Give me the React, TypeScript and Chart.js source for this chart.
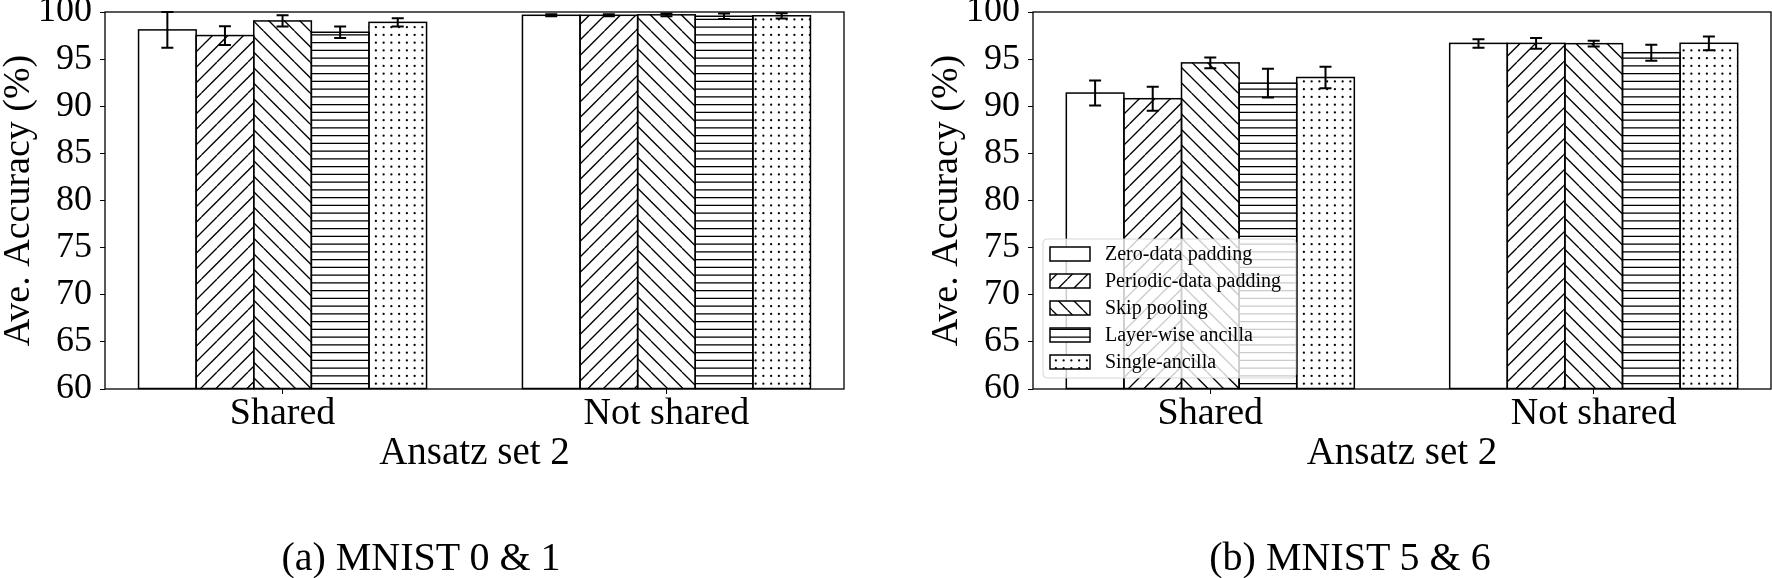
import React, { useEffect, useRef } from 'react';
import { Chart, registerables } from 'chart.js';

Chart.register(...registerables);

// ---------- data ----------
const GROUPS = ['Shared', 'Not shared'];
const GROUP_POS = [0, 1];
const SERIES_LABELS = [
  'Zero-data padding',
  'Periodic-data padding',
  'Skip pooling',
  'Layer-wise ancilla',
  'Single-ancilla',
];
const HATCHES = ['none', '/', '\\', '-', '.'];
const X_TITLE = 'Ansatz set 2';
const Y_TITLE = 'Ave. Accuracy (%)';
const Y_MIN = 60;
const Y_MAX = 100;
const Y_STEP = 5;

// (a) MNIST 0 & 1
const A_ZERO = [98.1, 99.65];
const A_PERIODIC = [97.5, 99.65];
const A_SKIP = [99.05, 99.7];
const A_LAYER = [97.85, 99.55];
const A_SINGLE = [98.9, 99.6];
const A_ZERO_ERR = [1.9, 0.1];
const A_PERIODIC_ERR = [1.0, 0.1];
const A_SKIP_ERR = [0.6, 0.14];
const A_LAYER_ERR = [0.6, 0.3];
const A_SINGLE_ERR = [0.45, 0.28];

// (b) MNIST 5 & 6
const B_ZERO = [91.4, 96.67];
const B_PERIODIC = [90.8, 96.67];
const B_SKIP = [94.6, 96.64];
const B_LAYER = [92.45, 95.68];
const B_SINGLE = [93.05, 96.68];
const B_ZERO_ERR = [1.33, 0.45];
const B_PERIODIC_ERR = [1.27, 0.58];
const B_SKIP_ERR = [0.56, 0.3];
const B_LAYER_ERR = [1.52, 0.84];
const B_SINGLE_ERR = [1.13, 0.73];

const CAPTION_A = '(a) MNIST 0 & 1';
const CAPTION_B = '(b) MNIST 5 & 6';

const A_VALUES = [A_ZERO, A_PERIODIC, A_SKIP, A_LAYER, A_SINGLE];
const A_ERRORS = [A_ZERO_ERR, A_PERIODIC_ERR, A_SKIP_ERR, A_LAYER_ERR, A_SINGLE_ERR];
const B_VALUES = [B_ZERO, B_PERIODIC, B_SKIP, B_LAYER, B_SINGLE];
const B_ERRORS = [B_ZERO_ERR, B_PERIODIC_ERR, B_SKIP_ERR, B_LAYER_ERR, B_SINGLE_ERR];

// ---------- styling ----------
const FAMILY = "'Liberation Serif', 'Times New Roman', Times, serif";
const BAR_PX = 57.6;

function makePattern(kind: string): any {
  if (kind === 'none') return '#ffffff';
  const T = 31;
  const c = document.createElement('canvas');
  c.width = T;
  c.height = T;
  const g = c.getContext('2d')!;
  g.fillStyle = '#ffffff';
  g.fillRect(0, 0, T, T);
  g.strokeStyle = '#000000';
  g.fillStyle = '#000000';
  g.lineWidth = 1.3;
  if (kind === '/') {
    const s = T / 2;
    for (let k = -1; k <= 5; k++) {
      const cc = k * s;
      g.beginPath();
      g.moveTo(cc, 0);
      g.lineTo(cc - T, T);
      g.stroke();
    }
  } else if (kind === '\\') {
    const s = T / 2;
    for (let k = -3; k <= 3; k++) {
      const cc = k * s;
      g.beginPath();
      g.moveTo(cc, 0);
      g.lineTo(cc + T, T);
      g.stroke();
    }
  } else if (kind === '-') {
    const s = T / 4;
    for (let k = 0; k < 4; k++) {
      const y = s / 2 + k * s;
      g.beginPath();
      g.moveTo(0, y);
      g.lineTo(T, y);
      g.stroke();
    }
  } else if (kind === '.') {
    const s = T / 4;
    for (let i = 0; i < 4; i++) {
      for (let j = 0; j < 4; j++) {
        g.beginPath();
        g.arc(s / 2 + i * s, s / 2 + j * s, 1.15, 0, Math.PI * 2);
        g.fill();
      }
    }
  }
  return g.createPattern(c, 'repeat');
}

// outlines, error bars and the frame, drawn over the bars
const overlayPlugin = {
  id: 'overlay',
  afterDatasetsDraw(chart: any) {
    const { ctx, chartArea, scales } = chart;
    const y = scales.y;
    ctx.save();
    chart.data.datasets.forEach((ds: any, i: number) => {
      const meta = chart.getDatasetMeta(i);
      meta.data.forEach((bar: any) => {
        const p = bar.getProps(['x', 'y', 'base', 'width'], true);
        ctx.strokeStyle = '#000';
        ctx.lineWidth = 1.5;
        ctx.strokeRect(p.x - p.width / 2, p.y, p.width, p.base - p.y);
      });
    });
    chart.data.datasets.forEach((ds: any, i: number) => {
      const meta = chart.getDatasetMeta(i);
      meta.data.forEach((bar: any, j: number) => {
        const v = ds.data[j].y;
        const e = ds.errors[j];
        const x = bar.x;
        const yTop = y.getPixelForValue(v + e);
        const yBot = y.getPixelForValue(v - e);
        ctx.strokeStyle = '#000';
        ctx.lineWidth = 2;
        ctx.beginPath();
        ctx.moveTo(x, yTop);
        ctx.lineTo(x, yBot);
        ctx.moveTo(x - 6, yTop);
        ctx.lineTo(x + 6, yTop);
        ctx.moveTo(x - 6, yBot);
        ctx.lineTo(x + 6, yBot);
        ctx.stroke();
      });
    });
    ctx.strokeStyle = '#000';
    ctx.lineWidth = 1.3;
    ctx.strokeRect(
      chartArea.left,
      chartArea.top,
      chartArea.right - chartArea.left,
      chartArea.bottom - chartArea.top
    );
    ctx.restore();
  },
};

const boxLegendPlugin = {
  id: 'boxLegend',
  afterDraw(chart: any, _args: any, opts: any) {
    if (!opts || !opts.display) return;
    const { ctx, chartArea } = chart;
    const w = 253;
    const h = 139;
    const x0 = chartArea.left + 10;
    const y0 = chartArea.bottom - 11 - h;
    ctx.save();
    ctx.beginPath();
    const r = 4;
    ctx.moveTo(x0 + r, y0);
    ctx.lineTo(x0 + w - r, y0);
    ctx.quadraticCurveTo(x0 + w, y0, x0 + w, y0 + r);
    ctx.lineTo(x0 + w, y0 + h - r);
    ctx.quadraticCurveTo(x0 + w, y0 + h, x0 + w - r, y0 + h);
    ctx.lineTo(x0 + r, y0 + h);
    ctx.quadraticCurveTo(x0, y0 + h, x0, y0 + h - r);
    ctx.lineTo(x0, y0 + r);
    ctx.quadraticCurveTo(x0, y0, x0 + r, y0);
    ctx.closePath();
    ctx.fillStyle = 'rgba(255,255,255,0.8)';
    ctx.fill();
    ctx.strokeStyle = 'rgba(204,204,204,0.8)';
    ctx.lineWidth = 1;
    ctx.stroke();
    chart.data.datasets.forEach((ds: any, i: number) => {
      const cy = y0 + 15 + i * 27;
      const hx = x0 + 7;
      const hy = cy - 7;
      ctx.fillStyle = ds.backgroundColor;
      ctx.fillRect(hx, hy, 40, 14);
      ctx.strokeStyle = '#000';
      ctx.lineWidth = 1.5;
      ctx.strokeRect(hx, hy, 40, 14);
      ctx.fillStyle = '#000';
      ctx.font = `20px ${FAMILY}`;
      ctx.textAlign = 'left';
      ctx.textBaseline = 'middle';
      ctx.fillText(ds.label, x0 + 62, cy + 1);
    });
    ctx.restore();
  },
};

function buildConfig(values: number[][], errors: number[][], showLegend: boolean, padRight: number): any {
  const patterns = HATCHES.map(makePattern);
  return {
    type: 'bar',
    data: {
      datasets: SERIES_LABELS.map((label, i) => ({
        label,
        data: GROUP_POS.map((x, j) => ({ x, y: values[i][j] })),
        errors: errors[i],
        backgroundColor: patterns[i],
        borderWidth: 0,
        barThickness: BAR_PX,
        base: Y_MIN,
      })),
    },
    options: {
      responsive: false,
      animation: false,
      devicePixelRatio: 1,
      events: [],
      layout: { padding: { left: 0, top: 12, right: padRight, bottom: 105 } },
      plugins: {
        legend: { display: false },
        tooltip: { enabled: false },
        boxLegend: { display: showLegend },
      },
      scales: {
        x: {
          type: 'linear',
          min: -0.4625,
          max: 1.4625,
          bounds: 'data',
          offset: false,
          afterBuildTicks: (s: any) => {
            s.ticks = GROUP_POS.map((v) => ({ value: v }));
          },
          afterFit: (s: any) => {
            s.height = 84;
            s.paddingLeft = 0;
            s.paddingRight = 0;
          },
          ticks: {
            callback: (v: number) => {
              const k = GROUP_POS.indexOf(v);
              return k >= 0 ? GROUPS[k] : '';
            },
            font: { family: FAMILY, size: 38, lineHeight: 1 },
            color: '#000',
            padding: 1,
            maxRotation: 0,
            autoSkip: false,
          },
          grid: {
            offset: false,
            drawOnChartArea: false,
            drawTicks: true,
            tickLength: 5,
            color: '#000',
            lineWidth: 1,
          },
          border: { display: false },
          title: {
            display: true,
            text: X_TITLE,
            font: { family: FAMILY, size: 39, lineHeight: 1 },
            color: '#000',
            padding: 0,
          },
        },
        y: {
          min: Y_MIN,
          max: Y_MAX,
          afterFit: (s: any) => {
            s.width = 105;
            s.paddingTop = 0;
            s.paddingBottom = 0;
          },
          ticks: {
            stepSize: Y_STEP,
            font: { family: FAMILY, size: 36, lineHeight: 1 },
            color: '#000',
            padding: 8,
          },
          grid: {
            drawOnChartArea: false,
            drawTicks: true,
            tickLength: 5,
            color: '#000',
            lineWidth: 1,
          },
          border: { display: false },
          title: {
            display: true,
            text: Y_TITLE,
            font: { family: FAMILY, size: 38, lineHeight: 1 },
            color: '#000',
            padding: 0,
          },
        },
      },
    },
    plugins: [overlayPlugin, boxLegendPlugin],
  };
}

const captionStyle = (cx: number): React.CSSProperties => ({
  position: 'absolute',
  left: cx - 250,
  width: 500,
  top: 537,
  textAlign: 'center',
  fontFamily: FAMILY,
  fontSize: 40,
  lineHeight: '40px',
  color: '#000',
  whiteSpace: 'nowrap',
});

export default function App() {
  const ref1 = useRef<HTMLCanvasElement>(null);
  const ref2 = useRef<HTMLCanvasElement>(null);

  useEffect(() => {
    const c1 = new Chart(ref1.current!, buildConfig(A_VALUES, A_ERRORS, false, 84));
    const c2 = new Chart(ref2.current!, buildConfig(B_VALUES, B_ERRORS, true, 1));
    return () => {
      c1.destroy();
      c2.destroy();
    };
  }, []);

  return (
    <div
      style={{
        position: 'absolute',
        left: 0,
        top: 0,
        width: 1772,
        height: 578,
        background: '#ffffff',
        overflow: 'hidden',
      }}
    >
      <canvas
        ref={ref1}
        width={928}
        height={578}
        style={{ position: 'absolute', left: 0, top: 0, width: 928, height: 578 }}
      />
      <canvas
        ref={ref2}
        width={844}
        height={578}
        style={{ position: 'absolute', left: 928, top: 0, width: 844, height: 578 }}
      />
      <div style={captionStyle(421)}>{CAPTION_A}</div>
      <div style={captionStyle(1350)}>{CAPTION_B}</div>
    </div>
  );
}
